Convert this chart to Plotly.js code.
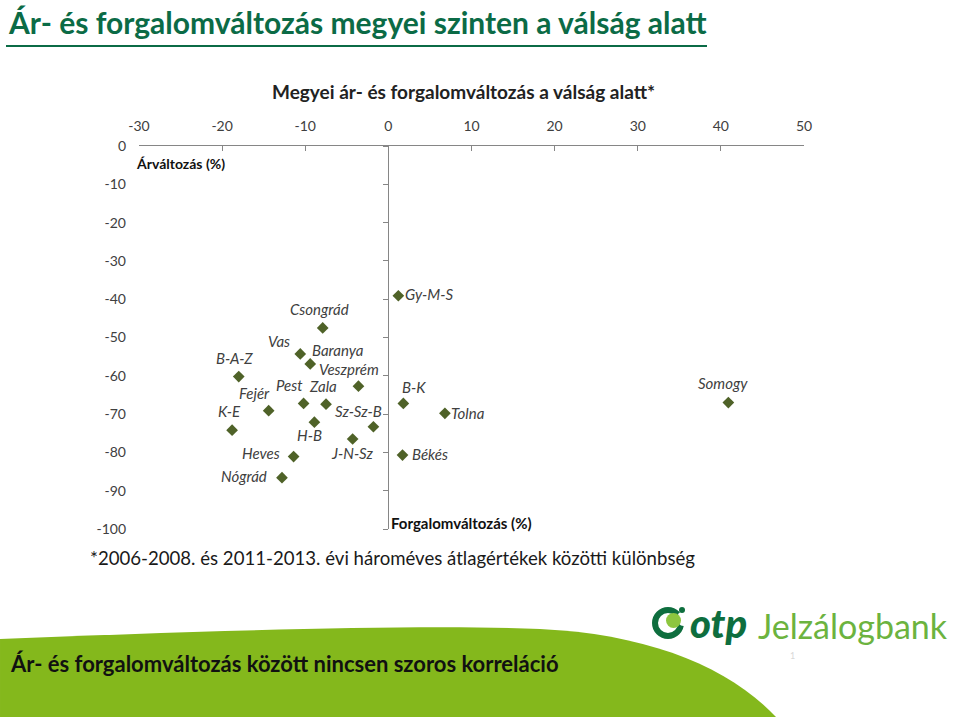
<!DOCTYPE html>
<html>
<head>
<meta charset="utf-8">
<script src="https://cdn.plot.ly/plotly-3.0.1.min.js"></script>
<style>
html, body { margin: 0; padding: 0; background: #fff; }
#chart { width: 960px; height: 717px; }
</style>
</head>
<body>
<div id="chart"></div>
<script>
// county codes, forgalomváltozás (x, %) and árváltozás (y, %)
const counties = ["Gy-M-S", "Csongrád", "Vas", "Baranya", "B-A-Z", "Veszprém", "Pest", "Zala", "Fejér", "K-E",
	"H-B", "Sz-Sz-B", "J-N-Sz", "Heves", "Nógrád", "B-K", "Tolna", "Békés", "Somogy"];
const forgalom = [1.2, -7.9, -10.6, -9.4, -18.0, -3.6, -10.2, -7.5, -14.4, -18.8,
	-8.9, -1.8, -4.3, -11.4, -12.8, 1.8, 6.8, 1.7, 40.9];
const arvaltozas = [-39.1, -47.5, -54.3, -56.9, -60.2, -62.7, -67.2, -67.4, -69.1, -74.2,
	-72.1, -73.3, -76.5, -81.1, -86.6, -67.2, -69.8, -80.7, -67.0];

const xTicks = [-30, -20, -10, 0, 10, 20, 30, 40, 50];
const yTicks = [0, -10, -20, -30, -40, -50, -60, -70, -80, -90, -100];
const xRange = [-30, 50];
const yRange = [-100, 0];

// label offsets in px from the marker (layout only)
const labelShift = [[31, 2], [-3, 19], [-21, 13], [28, 14], [-4, 19], [-9, 17], [-14, 18], [-3, 18], [-14, 18], [-3, 19],
	[-5, -13], [-15, 16], [-1, -14], [-33, 4], [-38, 2], [11, 16], [23, 0], [27, 1], [-5, 20]];

const font = "Lato, 'Open Sans', sans-serif";
const green = "#0b6b46";
const axisGray = "#868686";

// plot area in page pixels, helpers to put page decoration in paper coords
const plotL = 139, plotR = 804, plotT = 146, plotB = 529;
const px = X => (X - plotL) / (plotR - plotL);
const py = Y => (plotB - Y) / (plotB - plotT);
const pathOf = pts => pts.map(p => typeof p === "string" ? p : `${px(p[0]).toFixed(4)},${py(p[1]).toFixed(4)}`).join(" ");

const textAt = (text, X, Y, opts) => Object.assign({
	text, x: px(X), y: py(Y), xref: "paper", yref: "paper",
	showarrow: false, xanchor: "left", yanchor: "middle"
}, opts);

const annotations = [
	textAt("Ár- és forgalomváltozás megyei szinten a válság alatt", 6, 22, {font: {family: font, size: 30, color: green, weight: 700}}),
	textAt("Megyei ár- és forgalomváltozás a válság alatt*", 463, 91, {xanchor: "center", font: {family: font, size: 19, color: "#222", weight: 700}}),
	textAt("Árváltozás (%)", 134, 163, {font: {family: font, size: 14, color: "#111", weight: 700}}),
	textAt("Forgalomváltozás (%)", 389, 523, {font: {family: font, size: 15, color: "#111", weight: 700}}),
	textAt("*2006-2008. és 2011-2013. évi hároméves átlagértékek közötti különbség", 88, 558, {font: {family: font, size: 18.6, color: "#1a1a1a"}}),
	textAt("Ár- és forgalomváltozás között nincsen szoros korreláció", 8, 663, {font: {family: font, size: 22, color: "#111", weight: 700}}),
	textAt("otp", 688, 623, {font: {family: font, size: 40, color: "#0e6e3e", weight: 900, style: "italic"}}),
	textAt("Jelzálogbank", 756, 625, {font: {family: font, size: 34, color: "#6cb33f"}}),
	textAt("1", 788, 655, {font: {family: font, size: 9, color: "#d8d8d8"}})
];

counties.forEach((name, i) => {
	annotations.push({
		text: name, x: forgalom[i], y: arvaltozas[i], xref: "x", yref: "y",
		showarrow: false, xanchor: "center", yanchor: "middle",
		xshift: labelShift[i][0], yshift: labelShift[i][1],
		font: {family: font, size: 15, color: "#404040", style: "italic"}
	});
});

const shapes = [
	{type: "line", xref: "paper", yref: "paper", x0: px(6), x1: px(707), y0: py(46), y1: py(46),
		line: {color: green, width: 2}},
	{type: "path", xref: "paper", yref: "paper", layer: "below", line: {width: 0}, fillcolor: "#84b81c",
		path: pathOf(["M", [0, 639], "C", [200, 631], [420, 624], [540, 629], "C", [650, 634], [730, 668], [776, 717], "L", [0, 717], "Z"])},
	{type: "circle", xref: "paper", yref: "paper", x0: px(655), x1: px(681), y0: py(610), y1: py(636),
		line: {color: "#0e6e3e", width: 6}},
	{type: "circle", xref: "paper", yref: "paper", x0: px(677), x1: px(690), y0: py(611), y1: py(626),
		line: {width: 0}, fillcolor: "#fff"},
	{type: "circle", xref: "paper", yref: "paper", x0: px(666), x1: px(681), y0: py(613), y1: py(628),
		line: {width: 0}, fillcolor: "#8dc63f"},
	{type: "circle", xref: "paper", yref: "paper", x0: px(679), x1: px(685), y0: py(607), y1: py(613),
		line: {width: 0}, fillcolor: "#0e6e3e"}
];

const data = [
	{
		type: "scatter", mode: "markers",
		x: forgalom, y: arvaltozas, text: counties,
		marker: {symbol: "diamond", size: 9, color: "#4f6228"},
		hoverinfo: "text+x+y"
	},
	// carries the tick marks on the y axis line at x = 0
	{type: "scatter", x: [], y: [], yaxis: "y2", hoverinfo: "skip"}
];

const tickFont = {family: font, size: 14, color: "#404040"};

const layout = {
	width: 960, height: 717,
	margin: {l: plotL, r: 960 - plotR, t: plotT, b: 717 - plotB, pad: 0},
	paper_bgcolor: "#fff", plot_bgcolor: "rgba(0,0,0,0)",
	showlegend: false,
	font: {family: font, color: "#404040"},
	xaxis: {
		range: xRange, side: "top",
		tickmode: "array", tickvals: xTicks, ticktext: xTicks.map(String),
		showline: true, linecolor: axisGray, linewidth: 1,
		ticks: "inside", ticklen: 5, tickcolor: axisGray,
		showgrid: false, zeroline: true, zerolinecolor: axisGray, zerolinewidth: 1,
		tickfont: tickFont, ticklabelstandoff: 8,
		fixedrange: true
	},
	yaxis: {
		range: yRange,
		tickmode: "array", tickvals: yTicks, ticktext: yTicks.map(String),
		showline: false, ticks: "",
		showgrid: false, zeroline: false,
		tickfont: tickFont, ticklabelstandoff: 12,
		fixedrange: true
	},
	yaxis2: {
		range: yRange, tickmode: "array", tickvals: yTicks, overlaying: "y", anchor: "free",
		position: (0 - xRange[0]) / (xRange[1] - xRange[0]),
		showline: false, ticks: "outside", ticklen: 5, tickcolor: axisGray,
		showticklabels: false, showgrid: false, zeroline: false, fixedrange: true
	},
	annotations, shapes
};

Plotly.newPlot("chart", data, layout, {displayModeBar: false, staticPlot: true});
</script>
</body>
</html>
